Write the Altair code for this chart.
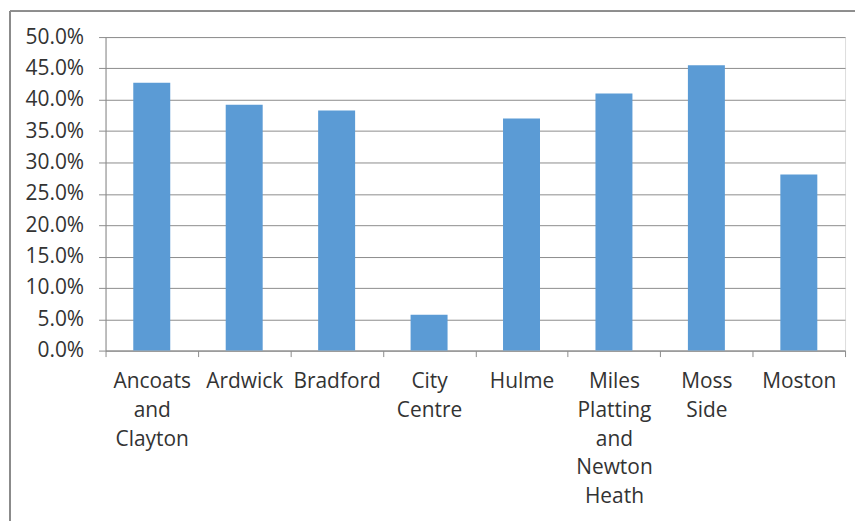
import altair as alt
import pandas as pd

areas = ["Ancoats and Clayton", "Ardwick", "Bradford", "City Centre", "Hulme",
         "Miles Platting and Newton Heath", "Moss Side", "Moston"]
values = [0.427, 0.392, 0.383, 0.057, 0.370, 0.410, 0.455, 0.281]

df = pd.DataFrame({"area": areas, "value": values})

W, H = 743, 315
GRID = "#8c8c8c"
TXT = "#333333"
FONT = "Open Sans"
FS = 21

bars = alt.Chart(df).mark_bar(color="#5B9BD5", width=alt.RelativeBandSize(0.4)).encode(
    x=alt.X("area:N", sort=areas,
            scale=alt.Scale(paddingInner=0, paddingOuter=0),
            axis=alt.Axis(title=None, labelAngle=0, tickBand="extent",
                          labelExpr="split(datum.label, ' ')",
                          labelLineHeight=29, labelFontSize=FS, labelFont=FONT,
                          labelColor=TXT, labelPadding=14, tickSize=6,
                          tickColor=GRID, domainColor=GRID, grid=False,
                          labelBaseline="top")),
    y=alt.Y("value:Q", scale=alt.Scale(domain=[0, 0.5]),
            axis=alt.Axis(title=None, format=".1%", values=[i * 0.05 for i in range(11)],
                          labelFontSize=FS, labelFont=FONT, labelColor=TXT,
                          labelPadding=15, tickSize=7, tickColor=GRID,
                          domainColor=GRID, gridColor=GRID, grid=True)),
)

# frame around the chart (slide box)
frame_left = alt.Chart(df).mark_rule(color="#8c8c8c", clip=False).encode(
    x=alt.value(-96), y=alt.value(-26), y2=alt.value(H + 200))
frame_top = alt.Chart(df).mark_rule(color="#8c8c8c", clip=False).encode(
    x=alt.value(-96), x2=alt.value(W + 40), y=alt.value(-26))

chart = alt.layer(frame_left, frame_top, bars).properties(
    width=W, height=H,
    padding={"left": 98, "top": 28, "right": 10, "bottom": 170},
    autosize=alt.AutoSizeParams(type="none"),
).configure_view(stroke=None).configure(background="white")

chart.save("out.html", embed_options={"renderer": "svg", "actions": False})
